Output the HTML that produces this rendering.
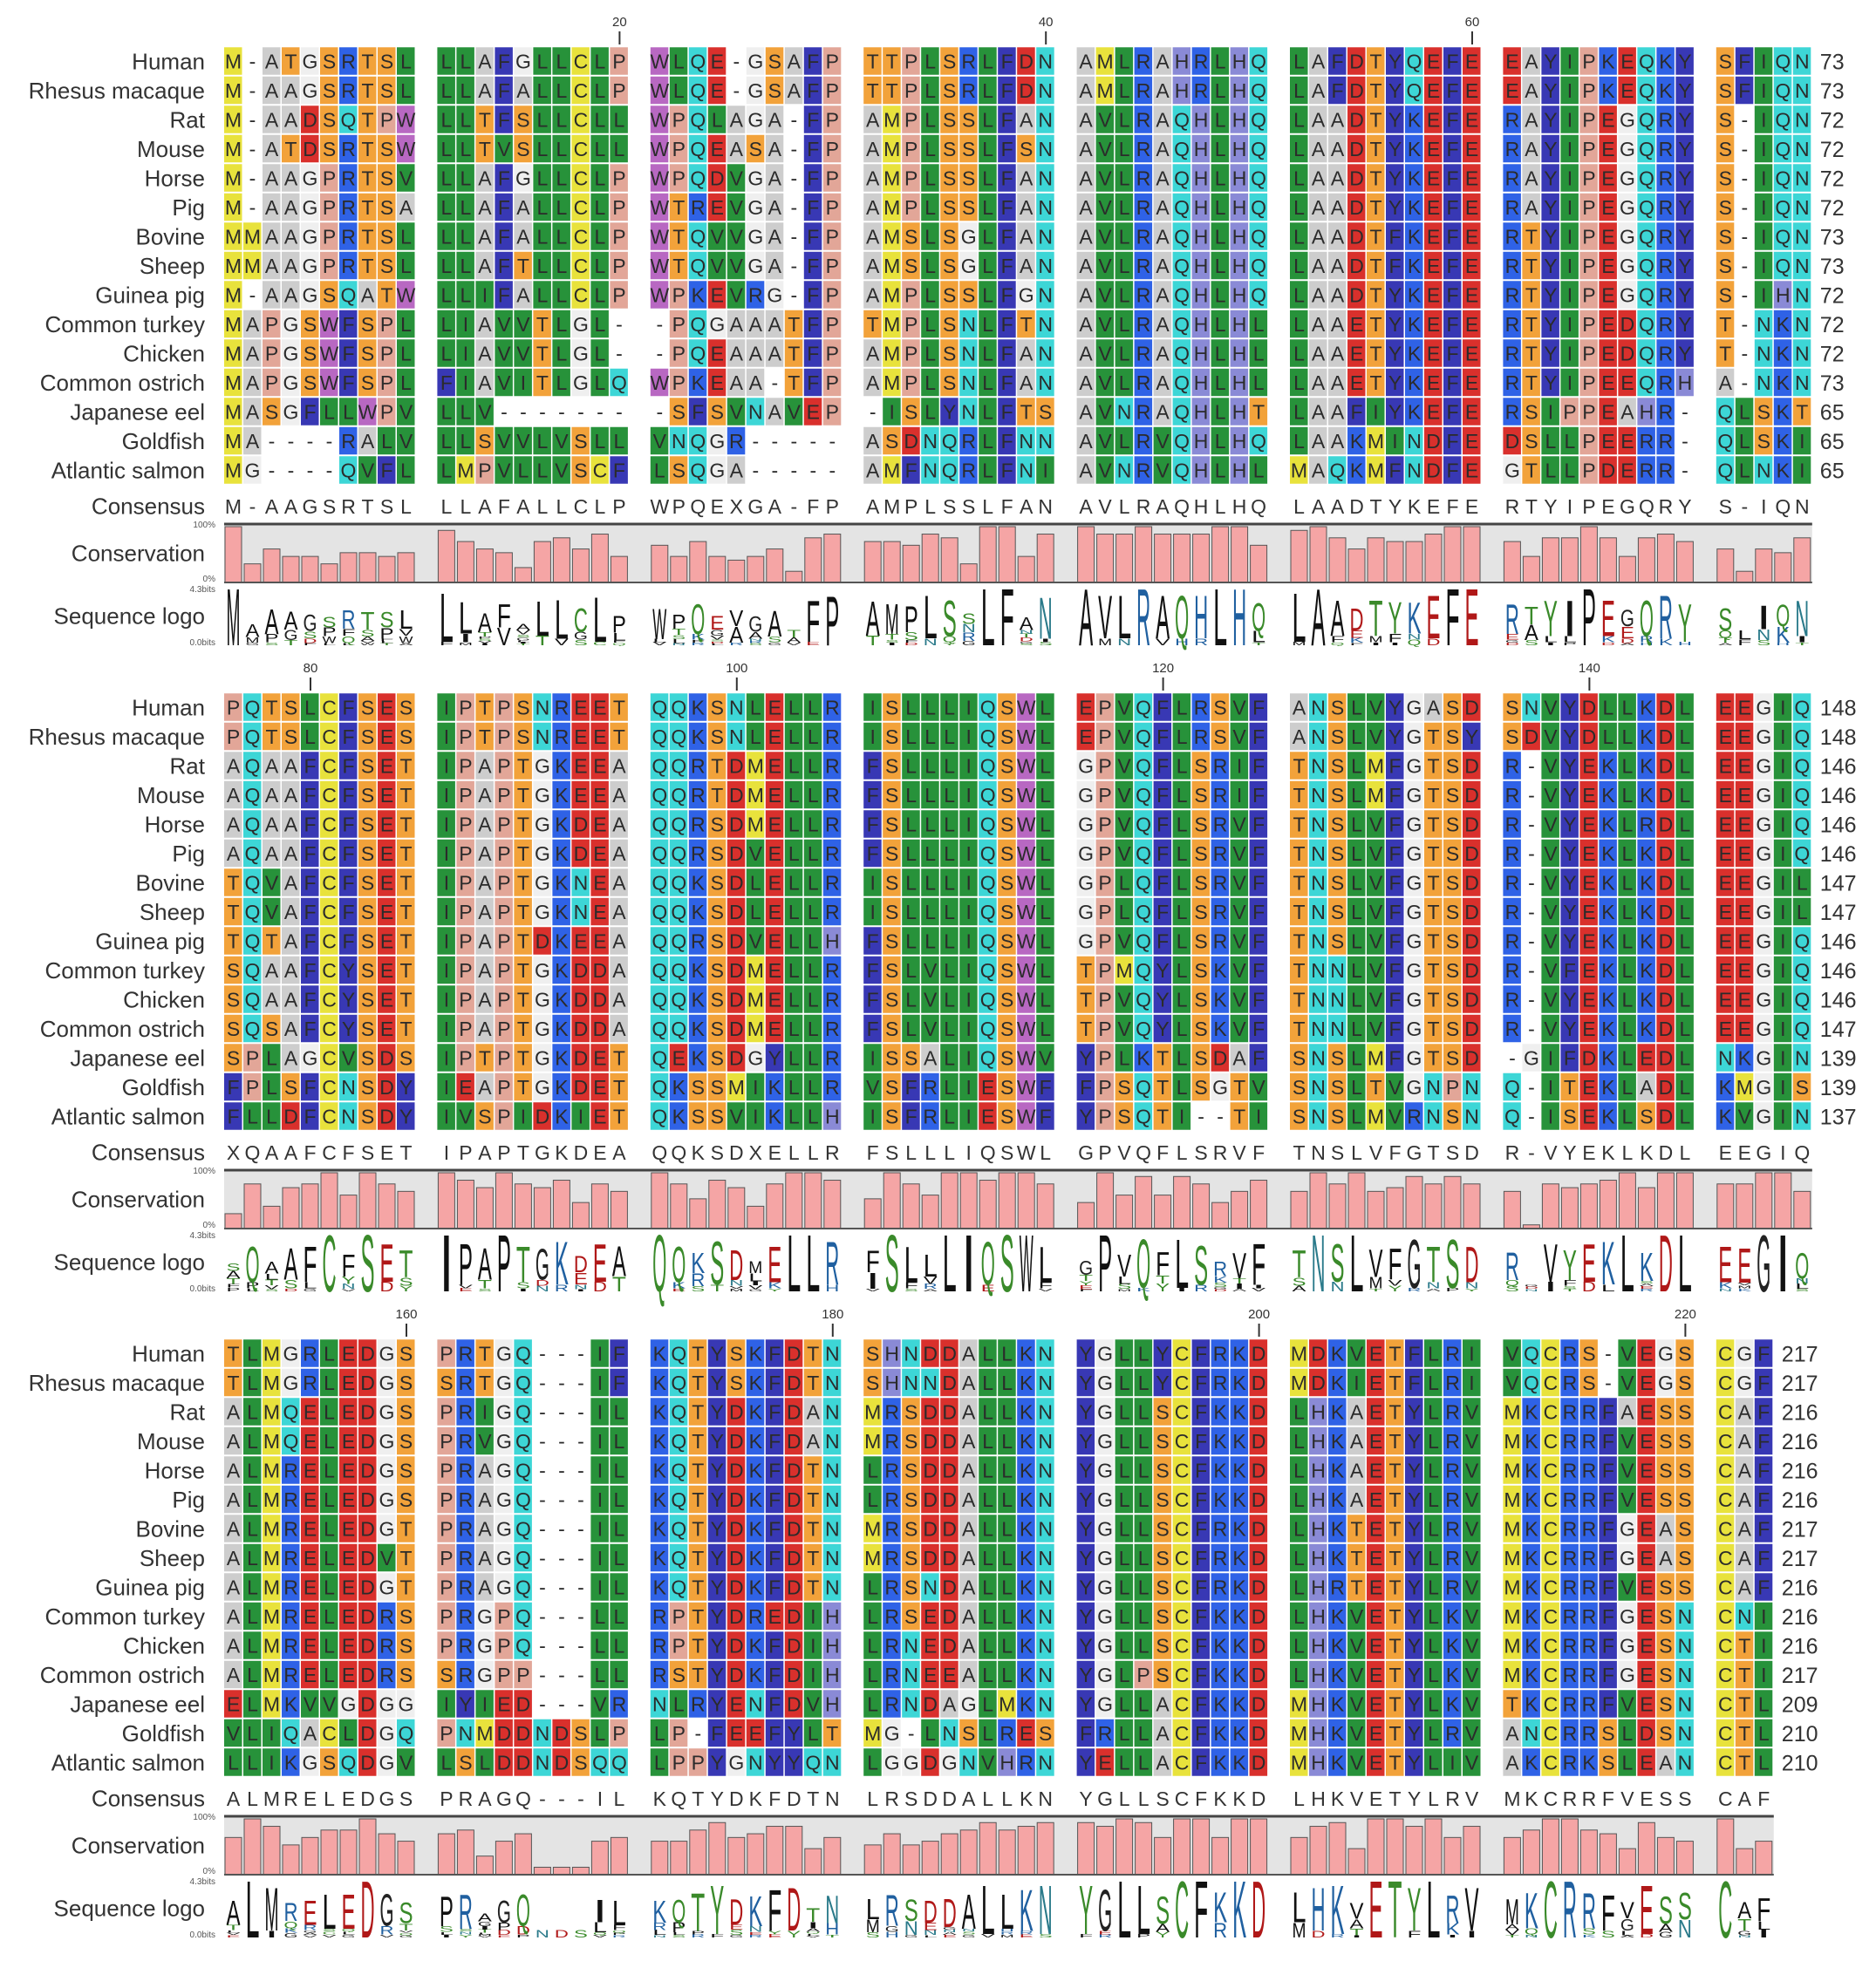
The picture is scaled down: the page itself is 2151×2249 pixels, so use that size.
<!DOCTYPE html>
<html>
<head>
<meta charset="utf-8">
<style>
html,body{margin:0;padding:0;background:#fff;}
svg{display:block;}
text{font-family:"Liberation Sans",Arial,sans-serif;}
</style>
</head>
<body>
<svg id="chart" xmlns="http://www.w3.org/2000/svg" width="2151" height="2249" viewBox="0 0 2151 2249"></svg>
<script>
const speciesNames = ["Human","Rhesus macaque","Rat","Mouse","Horse","Pig","Bovine","Sheep","Guinea pig","Common turkey","Chicken","Common ostrich","Japanese eel","Goldfish","Atlantic salmon"];

const block1Seqs = [
"M-ATGSRTSL LLAFGLLCLP WLQE-GSAFP TTPLSRLFDN AMLRAHRLHQ LAFDTYQEFE EAYIPKEQKY SFIQN",
"M-AAGSRTSL LLAFALLCLP WLQE-GSAFP TTPLSRLFDN AMLRAHRLHQ LAFDTYQEFE EAYIPKEQKY SFIQN",
"M-AADSQTPW LLTFSLLCLL WPQLAGA-FP AMPLSSLFAN AVLRAQHLHQ LAADTYKEFE RAYIPEGQRY S-IQN",
"M-ATDSRTSW LLTVSLLCLL WPQEASA-FP AMPLSSLFSN AVLRAQHLHQ LAADTYKEFE RAYIPEGQRY S-IQN",
"M-AAGPRTSV LLAFGLLCLP WPQDVGA-FP AMPLSSLFAN AVLRAQHLHQ LAADTYKEFE RAYIPEGQRY S-IQN",
"M-AAGPRTSA LLAFALLCLP WTREVGA-FP AMPLSSLFAN AVLRAQHLHQ LAADTYKEFE RAYIPEGQRY S-IQN",
"MMAAGPRTSL LLAFALLCLP WTQVVGA-FP AMSLSGLFAN AVLRAQHLHQ LAADTFKEFE RTYIPEGQRY S-IQN",
"MMAAGPRTSL LLAFTLLCLP WTQVVGA-FP AMSLSGLFAN AVLRAQHLHQ LAADTFKEFE RTYIPEGQRY S-IQN",
"M-AAGSQATW LLIFALLCLP WPKEVRG-FP AMPLSSLFGN AVLRAQHLHQ LAADTYKEFE RTYIPEGQRY S-IHN",
"MAPGSWFSPL LIAVVTLGL- -PQGAAATFP TMPLSNLFTN AVLRAQHLHL LAAETYKEFE RTYIPEDQRY T-NKN",
"MAPGSWFSPL LIAVVTLGL- -PQEAAATFP AMPLSNLFAN AVLRAQHLHL LAAETYKEFE RTYIPEDQRY T-NKN",
"MAPGSWFSPL FIAVITLGLQ WPKEAA-TFP AMPLSNLFAN AVLRAQHLHL LAAETYKEFE RTYIPEEQRH A-NKN",
"MASGFLLWPV LLV------- -SFSVNAVEP -ISLYNLFTS AVNRAQHLHT LAAFIYKEFE RSIPPEAHR- QLSKT",
"MA----RALV LLSVVLVSLL VNQGR----- ASDNQRLFNN AVLRVQHLHQ LAAKMINDFE DSLLPEERR- QLSKI",
"MG----QVFL LMPVLLVSCF LSQGA----- AMFNQRLFNI AVNRVQHLHL MAQKMFNDFE GTLLPDERR- QLNKI"];
const block1Consensus = "M-AAGSRTSL LLAFALLCLP WPQEXGA-FP AMPLSSLFAN AVLRAQHLHQ LAADTYKEFE RTYIPEGQRY S-IQN";
const block1Ends = [73,73,72,72,72,72,73,73,72,72,72,73,65,65,65];
const block1Ticks = [20,40,60];

const block2Seqs = [
"PQTSLCFSES IPTPSNREET QQKSNLELLR ISLLLIQSWL EPVQFLRSVF ANSLVYGASD SNVYDLLKDL EEGIQ",
"PQTSLCFSES IPTPSNREET QQKSNLELLR ISLLLIQSWL EPVQFLRSVF ANSLVYGTSY SDVYDLLKDL EEGIQ",
"AQAAFCFSET IPAPTGKEEA QQRTDMELLR FSLLLIQSWL GPVQFLSRIF TNSLMFGTSD R-VYEKLKDL EEGIQ",
"AQAAFCFSET IPAPTGKEEA QQRTDMELLR FSLLLIQSWL GPVQFLSRIF TNSLMFGTSD R-VYEKLKDL EEGIQ",
"AQAAFCFSET IPAPTGKDEA QQRSDMELLR FSLLLIQSWL GPVQFLSRVF TNSLVFGTSD R-VYEKLRDL EEGIQ",
"AQAAFCFSET IPAPTGKDEA QQRSDVELLR FSLLLIQSWL GPVQFLSRVF TNSLVFGTSD R-VYEKLKDL EEGIQ",
"TQVAFCFSET IPAPTGKNEA QQKSDLELLR ISLLLIQSWL GPLQFLSRVF TNSLVFGTSD R-VYEKLKDL EEGIL",
"TQVAFCFSET IPAPTGKNEA QQKSDLELLR ISLLLIQSWL GPLQFLSRVF TNSLVFGTSD R-VYEKLKDL EEGIL",
"TQTAFCFSET IPAPTDKEEA QQRSDVELLH FSLLLIQSWL GPVQFLSRVF TNSLVFGTSD R-VYEKLKDL EEGIQ",
"SQAAFCYSET IPAPTGKDDA QQKSDMELLR FSLVLIQSWL TPMQYLSKVF TNNLVFGTSD R-VFEKLKDL EEGIQ",
"SQAAFCYSET IPAPTGKDDA QQKSDMELLR FSLVLIQSWL TPVQYLSKVF TNNLVFGTSD R-VYEKLKDL EEGIQ",
"SQSAFCYSET IPAPTGKDDA QQKSDMELLR FSLVLIQSWL TPVQYLSKVF TNNLVFGTSD R-VYEKLKDL EEGIQ",
"SPLAGCVSDS IPTPTGKDET QEKSDGYLLR ISSALIQSWV YPLKTLSDAF SNSLMFGTSD -GIFDKLEDL NKGIN",
"FPLSFCNSDY IEAPTGKDET QKSSMIKLLR VSFRLIESWF FPSQTLSGTV SNSLTVGNPN Q-ITEKLADL KMGIS",
"FLLDFCNSDY IVSPIDKIET QKSSVIKLLH ISFRLIESWF YPSQTI--TI SNSLMVRNSN Q-ISEKLSDL KVGIN"];
const block2Consensus = "XQAAFCFSET IPAPTGKDEA QQKSDXELLR FSLLLIQSWL GPVQFLSRVF TNSLVFGTSD R-VYEKLKDL EEGIQ";
const block2Ends = [148,148,146,146,146,146,147,147,146,146,146,147,139,139,137];
const block2Ticks = [80,100,120,140];

const block3Seqs = [
"TLMGRLEDGS PRTGQ---IF KQTYSKFDTN SHNDDALLKN YGLLYCFRKD MDKVETFLRI VQCRS-VEGS CGF",
"TLMGRLEDGS SRTGQ---IF KQTYSKFDTN SHNNDALLKN YGLLYCFRKD MDKIETFLRI VQCRS-VEGS CGF",
"ALMQELEDGS PRIGQ---IL KQTYDKFDAN MRSDDALLKN YGLLSCFKKD LHKAETYLRV MKCRRFAESS CAF",
"ALMQELEDGS PRVGQ---IL KQTYDKFDAN MRSDDALLKN YGLLSCFKKD LHKAETYLRV MKCRRFVESS CAF",
"ALMRELEDGS PRAGQ---IL KQTYDKFDTN LRSDDALLKN YGLLSCFKKD LHKAETYLRV MKCRRFVESS CAF",
"ALMRELEDGS PRAGQ---IL KQTYDKFDTN LRSDDALLKN YGLLSCFKKD LHKAETYLRV MKCRRFVESS CAF",
"ALMRELEDGT PRAGQ---IL KQTYDKFDTN MRSDDALLKN YGLLSCFRKD LHKTETYLRV MKCRRFGEAS CAF",
"ALMRELEDVT PRAGQ---IL KQTYDKFDTN MRSDDALLKN YGLLSCFRKD LHKTETYLRV MKCRRFGEAS CAF",
"ALMRELEDGT PRAGQ---IL KQTYDKFDTN LRSNDALLKN YGLLSCFRKD LHRTETYLRV MKCRRFVESS CAF",
"ALMRELEDRS PRGPQ---LL RPTYDREDIH LRSEDALLKN YGLLSCFKKD LHKVETYLKV MKCRRFGESN CNI",
"ALMRELEDRS PRGPQ---LL RPTYDKFDIH LRNEDALLKN YGLLSCFKKD LHKVETYLKV MKCRRFGESN CTI",
"ALMRELEDRS SRGPP---LL RSTYDKFDIH LRNEEALLKN YGLPSCFKKD LHKVETYLKV MKCRRFGESN CTI",
"ELMKVVGDGG IYIED---VR NLRYENFDVH LRNDAGLMKN YGLLACFKKD MHKVETYLKV TKCRRFVESN CTL",
"VLIQACLDGQ PNMDDNDSLP LP-FEEFYLT MG-LNSLRES FRLLACFKKD MHKVETYLRV ANCRRSLDSN CTL",
"LLIKGSQDGV LSLDDNDSQQ LPPYGNYYQN LGGDGNVHRN YELLACFKKD MHKVETYLIV AKCRKSLEAN CTL"];
const block3Consensus = "ALMRELEDGS PRAGQ---IL KQTYDKFDTN LRSDDALLKN YGLLSCFKKD LHKVETYLRV MKCRRFVESS CAF";
const block3Ends = [217,217,216,216,216,216,217,217,216,216,216,217,209,210,210];
const block3Ticks = [160,180,200,220];

// ---- layout (not data) ----
const X0 = 257, CW = 22, GP = 244.4, P = 33.5;
const blockTop = [70, 811, 1552];
const blockStart = [0, 75, 150];
const NS = "http://www.w3.org/2000/svg";
const svg = document.getElementById('chart');

const cellColor = {L:'#27923a',V:'#27923a',I:'#27923a',A:'#cdcdcd',G:'#efefef',M:'#e8e23c',C:'#e8e23c',
  D:'#d9302c',E:'#d9302c',K:'#2f62e6',R:'#2f62e6',F:'#3838b4',Y:'#3838b4',S:'#f2a23a',T:'#f2a23a',
  N:'#3dd6d6',Q:'#3dd6d6',W:'#b868c2',H:'#8a8ad6',P:'#e2a698'};
const logoColor = {A:'#111',V:'#111',L:'#111',I:'#111',P:'#111',W:'#111',F:'#111',M:'#111',
  G:'#222',S:'#3a8a2a',T:'#3a8a2a',C:'#3a8a2a',Y:'#3a8a2a',N:'#2a7a8a',Q:'#3a8a2a',
  K:'#2060a0',R:'#2060a0',H:'#2060a0',D:'#b01818',E:'#b01818'};

function el(tag, attrs, parent){
  const e = document.createElementNS(NS, tag);
  for (const k in attrs) e.setAttribute(k, attrs[k]);
  (parent||svg).appendChild(e);
  return e;
}
function colX(c){ return X0 + Math.floor(c/10)*GP + (c%10)*CW; }

const blocks = [
  {seqs:block1Seqs, cons:block1Consensus, ends:block1Ends, ticks:block1Ticks},
  {seqs:block2Seqs, cons:block2Consensus, ends:block2Ends, ticks:block2Ticks},
  {seqs:block3Seqs, cons:block3Consensus, ends:block3Ends, ticks:block3Ticks}
];

blocks.forEach((b, bi) => {
  const top = blockTop[bi];
  const g = el('g', {});
  
  
  const rows = b.seqs.map(s => s.replace(/ /g,''));
  const cons = b.cons.replace(/ /g,'');
  const ncol = rows[0].length;
  const xEnd = colX(ncol-1) + CW;

  // ruler
  b.ticks.forEach(t => {
    const c = t - 1 - blockStart[bi];
    const cx = colX(c) + CW/2;
    const tx = el('text', {x:cx, y:top-40, 'font-size':15, 'text-anchor':'middle', fill:'#333'}, g);
    tx.textContent = t;
    
    
    const ln = el('line', {x1:cx, x2:cx, y1:top-34, y2:top-19, stroke:'#333', 'stroke-width':2}, g);
    
    
  });

  // rows
  rows.forEach((seq, ri) => {
    const cy = top + ri*P;
    const nm = el('text', {x:235, y:cy+9.5, 'font-size':26, 'text-anchor':'end', fill:'#333'}, g);
    nm.textContent = speciesNames[ri];
    
    
    const rg = el('g', {}, g);
    
    
    for (let c=0; c<ncol; c++){
      const ch = seq[c];
      const x = colX(c);
      if (cellColor[ch]){
        const r = el('rect', {x:x, y:cy-P/2+1, width:CW-1.5, height:P-2, fill:cellColor[ch]}, rg);
        
        
      }
      const t = el('text', {x:x+CW/2-0.5, y:cy+8.5, 'font-size':23, 'text-anchor':'middle', fill:'#2b2b2b'}, rg);
      t.textContent = ch;
    }
    const en = el('text', {x:xEnd+9, y:cy+9.5, 'font-size':25, fill:'#333'}, g);
    en.textContent = b.ends[ri];
    
    
  });

  // consensus
  const cyC = top + 510;
  const cl = el('text', {x:235, y:cyC+9.5, 'font-size':26, 'text-anchor':'end', fill:'#333'}, g);
  cl.textContent = 'Consensus';
  
  
  for (let c=0; c<ncol; c++){
    const t = el('text', {x:colX(c)+CW/2-0.5, y:cyC+9, 'font-size':23, 'text-anchor':'middle', fill:'#333'}, g);
    t.textContent = cons[c];
    
    
  }

  // conservation
  const y1 = top + 531, y2 = top + 598;
  const box = el('rect', {x:X0, y:y1, width:xEnd-X0, height:y2-y1, fill:'#e4e4e4'}, g);
  
  
  const stats = [];
  for (let c=0; c<ncol; c++){
    const counts = {}; let n = 0;
    rows.forEach(s => { const ch = s[c]; if (ch !== '-'){ counts[ch]=(counts[ch]||0)+1; n++; } });
    let mx = 0; for (const k in counts) mx = Math.max(mx, counts[k]);
    stats.push({counts, n, cons: mx/rows.length});
    const h = (y2-y1-3) * stats[c].cons;
    const bar = el('rect', {x:colX(c)+1, y:y2-h, width:CW-3, height:h, fill:'#f5a5a5', stroke:'#555', 'stroke-width':1}, g);
    
    
  }
  el('line', {x1:X0, x2:xEnd, y1:y1, y2:y1, stroke:'#444', 'stroke-width':3}, g);
  el('line', {x1:X0, x2:xEnd, y1:y2, y2:y2, stroke:'#555', 'stroke-width':2}, g);
  const cvl = el('text', {x:235, y:(y1+y2)/2+9, 'font-size':26, 'text-anchor':'end', fill:'#333'}, g);
  cvl.textContent = 'Conservation';
  
  
  const p100 = el('text', {x:247, y:y1+4, 'font-size':10, 'text-anchor':'end', fill:'#555'}, g);
  p100.textContent = '100%';
  const p0 = el('text', {x:247, y:y2-1, 'font-size':10, 'text-anchor':'end', fill:'#555'}, g);
  p0.textContent = '0%';

  // sequence logo
  const ly1 = top + 603, ly2 = top + 670;
  const lh = ly2 - ly1;
  const ll = el('text', {x:235, y:(ly1+ly2)/2+9, 'font-size':26, 'text-anchor':'end', fill:'#333'}, g);
  ll.textContent = 'Sequence logo';
  
  
  const b43 = el('text', {x:247, y:ly1+6, 'font-size':10, 'text-anchor':'end', fill:'#555'}, g);
  b43.textContent = '4.3bits';
  const b00 = el('text', {x:247, y:ly2, 'font-size':10, 'text-anchor':'end', fill:'#555'}, g);
  b00.textContent = '0.0bits';
  const lg = el('g', {}, g);
  
  
  const maxBits = Math.log2(20);
  stats.forEach((st, c) => {
    if (st.n === 0) return;
    let H = 0;
    for (const k in st.counts){ const f = st.counts[k]/st.n; H -= f*Math.log2(f); }
    const R = Math.max(0, (maxBits - H)) * (st.n/rows.length);
    const letters = Object.keys(st.counts).map(k => ({k, h: st.counts[k]/st.n * R / maxBits * lh}))
      .sort((a,b)=>a.h-b.h);
    let yb = ly2;
    letters.forEach(L => {
      if (L.h < 0.8) { yb -= L.h; return; }
      const t = el('text', {x:0, y:0, 'font-size':100, textLength:CW-6, lengthAdjust:'spacingAndGlyphs',
        fill: logoColor[L.k] || '#111',
        transform:'translate(' + (colX(c)+2.5) + ',' + yb + ') scale(1,' + (L.h/72) + ')'}, lg);
      t.textContent = L.k;
      
      
      yb -= L.h;
    });
  });
});
</script>
</body>
</html>
